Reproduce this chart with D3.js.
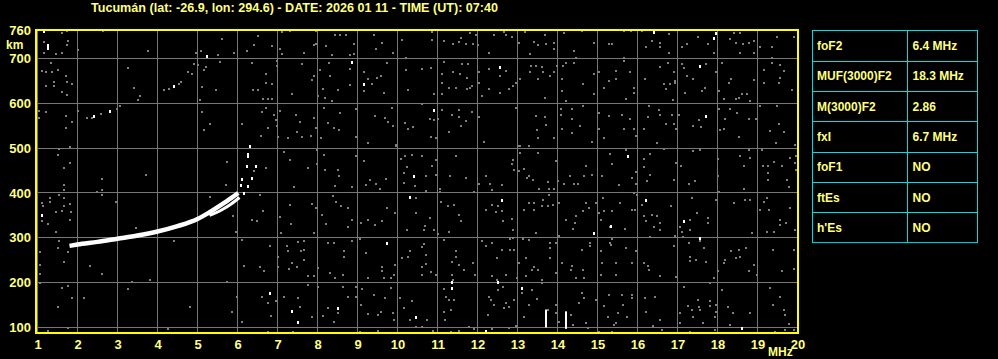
<!DOCTYPE html>
<html>
<head>
<meta charset="utf-8">
<script src="https://cdn.jsdelivr.net/npm/d3@7"></script>
<style>
  html, body { margin: 0; padding: 0; background: #000; }
  svg { display: block; }
  text { font-family: "Liberation Sans", Arial, sans-serif; font-weight: bold; fill: #ffff80; }
</style>
</head>
<body>
<div id="chart"></div>
<script>
const title = "Tucumán (lat: -26.9, lon: 294.6) - DATE: 2026 01 11 - TIME (UT): 07:40";

const freqTicks = [1, 2, 3, 4, 5, 6, 7, 8, 9, 10, 11, 12, 13, 14, 15, 16, 17, 18, 19, 20];
const heightGrid = [100, 200, 300, 400, 500, 600, 700];
const heightLabels = [100, 200, 300, 400, 500, 600, 700, 760];

// scaled parameters table
const paramNames = ["foF2", "MUF(3000)F2", "M(3000)F2", "fxI", "foF1", "ftEs", "h'Es"];
const paramValues = ["6.4 MHz", "18.3 MHz", "2.86", "6.7 MHz", "NO", "NO", "NO"];

// F2 ordinary trace (MHz, km)
const oTraceF = [1.8, 2.0, 2.5, 3.0, 3.5, 4.0, 4.5, 5.0, 5.3, 5.6, 5.85, 6.02];
const oTraceH = [282, 285, 291, 298, 305, 314, 326, 342, 357, 374, 389, 400];
// extraordinary branch
const xTraceF = [5.3, 5.6, 5.85, 6.05];
const xTraceH = [350, 362, 376, 390];
// cusp echoes near foF2
const cuspDots = [[6.13,400],[6.05,418],[6.09,431],[6.24,415],[6.34,433],[6.2,460],[6.43,460],[6.24,482],[6.28,504],[6.24,488]];

// vertical interference bars [freq, hLow, hHigh]
const bars = [[13.69, 100, 140], [14.2, 97, 136]];

// bright echoes scattered over the ionogram
const whiteNoise = [[1.13,762],[1.24,730],[1.24,724],[5.22,706],[4.38,639],[2.38,572],[2.78,583],[1.09,351],[8.84,693],[9.14,643],
  [10.38,437],[10.28,390],[9.7,288],[6.78,176],[7.33,137],[7.49,113],[8.49,143],[10.43,124],[12.53,680],[10.89,585],
  [12.58,385],[14.89,311],[11.33,202],[11.33,187],[12.18,92],[12.49,202],[13.08,187],[16.38,760],[17.89,745],[17.94,758],
  [17.54,684],[15.73,482],[16.19,385],[17.14,337],[17.54,299],[15.31,327],[17.69,572],[18.58,98]];

// grey noise returns
const greyNoise = [
  [1.59,757],[1.7,762],[2.6,762],[1.13,736],[1.73,740],[1.7,730],[1.13,712],[1.43,709],[1.59,712],[1.98,719],
  [3.74,716],[4.94,712],[5.05,717],[5.48,708],[5.59,743],[5.53,692],[1.32,690],[1.2,670],[1.34,669],[1.49,674],
  [1.09,672],[1.69,661],[1.38,648],[1.7,648],[1.84,643],[1.19,639],[1.38,639],[1.59,625],[1.7,619],[3.24,679],
  [3.38,634],[3.53,616],[3.49,607],[4.13,629],[4.26,633],[4.5,644],[4.57,648],[4.74,669],[4.84,666],[4.88,688],
  [4.99,685],[5.13,675],[5.19,680],[5.08,636],[5.44,629],[5.03,607],[5.09,581],[5.28,553],[5.13,540],[5.7,469],
  [5.69,417],[2.34,567],[2.2,567],[2.55,576],[2.95,587],[3.03,593],[1.18,581],[1.0,583],[1.0,568],[1.69,572],
  [1.69,546],[1.84,558],[1.98,584],[1.5,499],[1.49,484],[1.78,503],[1.78,466],[1.63,455],[2.59,432],[2.59,407],
  [2.59,396],[2.45,402],[3.68,441],[1.63,417],[1.63,407],[1.5,395],[1.63,389],[1.63,372],[1.78,376],[1.28,389],
  [1.28,380],[1.09,378],[1.12,370],[1.09,337],[1.24,331],[1.44,357],[1.59,359],[1.8,358],[1.78,339],[1.44,313],
  [2.94,381],[5.28,390],[3.44,322],[4.38,292],[1.5,292],[1.49,277],[1.74,269],[1.63,245],[1.03,269],[1.03,240],
  [1.03,220],[1.03,200],[2.28,238],[2.59,219],[3.34,202],[3.78,207],[3.24,185],[1.59,189],[1.74,193],[1.84,166],
  [2.13,166],[1.49,146],[4.78,145],[1.74,99],[1.24,92],[4.23,97],[5.63,88],[5.72,202],
  [6.49,751],[7.08,760],[7.28,762],[7.93,762],[7.93,732],[8.18,728],[8.41,752],[8.53,752],[8.68,752],[8.89,732],
  [8.89,710],[9.38,752],[9.59,734],[9.85,712],[10.08,741],[10.18,702],[5.88,712],[6.2,717],[6.39,730],[6.83,728],
  [7.03,721],[7.09,710],[7.64,712],[7.89,730],[8.33,707],[8.78,707],[9.44,721],
  [6.33,691],[6.95,695],[6.95,684],[6.68,665],[6.83,643],[6.68,646],[6.35,630],[6.49,630],[6.6,609],[6.73,610],
  [6.85,610],[7.34,620],[7.59,687],[7.83,652],[7.89,661],[8.03,675],[7.99,616],[8.12,633],[8.16,613],[8.33,605],
  [8.27,691],[8.28,661],[8.49,629],[8.78,676],[8.78,640],[9.13,669],[9.13,628],[9.24,654],[9.34,643],[9.45,656],
  [9.55,661],[9.64,624],[9.72,691],[10.18,675],[10.24,629],
  [6.08,553],[6.58,581],[6.68,589],[6.88,573],[6.93,563],[6.95,549],[7.03,583],[6.74,544],[6.56,527],[6.98,525],
  [7.24,523],[7.43,575],[7.53,558],[7.45,537],[7.59,525],[7.81,527],[7.89,568],[7.93,545],[8.06,523],[8.14,589],
  [8.23,557],[8.39,544],[8.53,579],[8.52,540],[8.93,587],[8.93,525],[9.24,512],[9.41,572],[9.66,568],[9.73,558],
  [9.85,549],[9.83,589],[9.93,508],[10.16,557],[10.24,542],[10.35,548],
  [6.68,456],[7.14,491],[7.28,473],[7.73,456],[7.95,496],[7.95,464],[7.39,414],[8.14,484],[8.16,451],[8.49,452],
  [8.51,437],[8.41,415],[8.84,414],[8.93,482],[9.14,472],[9.28,430],[9.18,417],[9.43,419],[9.53,408],[9.68,432],
  [9.93,505],[10.06,475],[10.16,482],[10.14,445],[10.14,422],[10.2,458],[10.33,484],[10.41,415],[6.39,450],
  [5.87,348],[5.93,314],[6.34,340],[6.45,337],[6.55,395],[6.6,359],[7.03,346],[7.06,311],[7.28,374],[7.3,331],
  [7.83,376],[7.93,367],[7.89,311],[8.09,352],[8.18,331],[8.37,393],[8.45,381],[8.56,372],[8.73,367],[8.74,325],
  [8.84,340],[9.06,334],[9.03,297],[9.23,340],[9.41,329],[9.59,337],[9.72,367],[9.91,355],[10.2,318],[10.43,389],
  [10.45,355],
  [6.09,296],[6.78,282],[6.98,258],[7.2,281],[7.24,270],[7.49,290],[7.64,292],[7.64,273],[7.56,270],[7.33,243],
  [7.45,235],[7.64,251],[7.73,214],[7.89,214],[7.99,232],[8.24,288],[8.39,288],[8.64,270],[8.64,258],[8.84,292],
  [9.18,266],[9.58,236],[9.59,225],[9.91,240],[9.88,217],[10.08,255],[10.24,257],[10.28,270],[9.64,210],[9.81,210],
  [9.24,210],[8.28,221],[8.41,210],[8.6,217],[6.14,237],[6.53,236],[6.64,226],[6.98,235],[7.26,230],
  [5.95,169],[5.84,135],[6.09,113],[6.58,169],[6.74,154],[6.81,126],[6.93,158],[7.14,169],[7.49,165],[7.53,146],
  [7.74,195],[7.83,124],[7.98,190],[8.12,126],[8.24,143],[8.49,132],[8.62,190],[8.73,169],[8.93,190],[8.95,169],
  [9.06,150],[9.09,185],[9.38,173],[9.23,129],[9.48,128],[9.56,135],[9.66,165],[9.81,187],[9.85,132],[9.89,117],
  [10.03,165],[10.14,143],[10.33,158],[10.28,117],[10.45,102],[8.39,113],[9.03,91],[9.49,92],[6.74,91],[7.37,91],
  [10.83,760],[10.83,742],[11.14,740],[11.35,732],[11.5,737],[11.56,745],[11.68,732],[11.78,757],[11.87,732],[11.93,752],
  [11.98,730],[12.25,712],[12.39,752],[12.64,760],[12.7,752],[12.83,749],[13.02,734],[13.17,760],[13.29,710],[13.39,737],
  [13.48,730],[13.65,752],[13.68,732],[13.89,734],[13.89,721],[14.14,757],[14.39,717],[14.43,702],[14.58,762],[14.89,734],
  [15.27,732],
  [10.58,676],[10.81,678],[10.89,620],[11.08,665],[11.08,646],[11.08,620],[11.14,693],[11.25,635],[11.35,669],[11.43,635],
  [11.58,687],[11.53,665],[11.7,657],[11.7,631],[11.78,635],[11.83,639],[11.75,687],[12.0,669],[12.0,646],[12.08,616],
  [12.27,676],[12.25,631],[12.53,660],[12.53,624],[12.68,672],[12.77,631],[12.87,639],[12.93,646],[13.03,655],[13.29,669],
  [13.31,684],[13.43,684],[13.49,654],[13.58,680],[13.62,669],[13.66,613],[13.78,661],[13.89,669],[14.08,654],[14.1,684],
  [14.08,628],[14.18,690],[14.39,690],[14.6,643],[14.89,665],[14.89,620],[15.14,635],[15.25,650],[15.02,670],[13.95,684],
  [10.58,598],[10.78,564],[10.89,563],[10.98,564],[10.81,525],[10.93,523],[11.25,536],[11.08,585],[11.33,573],[11.52,570],
  [11.5,585],[11.56,549],[11.68,560],[11.83,581],[12.0,570],[12.14,514],[12.93,589],[13.02,505],[13.25,505],[13.43,572],
  [13.48,523],[13.45,540],[13.67,570],[13.68,551],[13.89,523],[14.06,573],[14.06,587],[14.08,542],[14.18,605],[14.33,587],
  [14.33,564],[14.33,533],[14.54,549],[14.6,595],[14.83,514],[15.0,579],[15.02,542],[15.14,523],[15.25,572],
  [10.58,482],[10.7,437],[10.7,404],[10.83,461],[10.93,473],[10.93,441],[11.03,408],[11.03,403],[11.28,439],[11.43,482],
  [11.68,434],[11.89,402],[12.18,437],[12.28,419],[12.33,406],[12.58,417],[12.85,473],[12.83,464],[12.89,452],[13.02,449],
  [13.03,490],[13.03,505],[13.13,454],[13.2,434],[13.25,437],[13.35,430],[13.48,490],[13.73,424],[13.77,409],[13.89,408],
  [13.98,426],[14.14,421],[14.28,437],[14.39,421],[14.5,419],[14.64,437],[14.68,460],[14.85,441],[15.08,437],[15.28,486],
  [13.93,472],[13.52,409],[12.02,419],
  [10.64,318],[10.67,327],[10.78,344],[10.89,318],[10.98,309],[11.06,381],[11.23,372],[11.39,374],[11.5,352],[11.27,314],
  [11.56,337],[12.18,363],[12.35,374],[12.43,357],[12.5,370],[12.58,359],[12.6,337],[12.83,342],[12.85,318],[12.85,299],
  [13.14,363],[13.25,378],[13.39,378],[13.39,363],[13.43,311],[13.58,370],[13.73,370],[13.85,374],[14.02,378],[14.18,340],
  [14.43,348],[14.42,333],[14.37,320],[14.6,359],[14.68,378],[14.77,367],[14.93,378],[15.02,355],[15.14,359],[15.12,389],
  [15.28,325],[15.06,340],[14.02,303],[13.77,395],[13.62,385],
  [10.58,279],[10.64,287],[10.58,236],[10.58,217],[10.68,261],[10.68,241],[10.81,224],[10.93,217],[11.14,296],[11.33,247],
  [11.43,270],[11.43,258],[11.5,240],[11.33,217],[11.35,206],[11.64,228],[11.85,243],[11.92,217],[12.1,292],[12.18,281],
  [12.35,288],[12.45,255],[12.35,214],[12.45,206],[12.58,273],[12.68,217],[12.78,297],[12.78,273],[12.89,273],[12.95,210],
  [13.0,243],[13.1,297],[13.18,255],[13.18,214],[13.27,296],[13.33,228],[13.39,236],[13.48,228],[13.58,206],[13.78,288],
  [13.78,277],[13.93,288],[13.79,255],[13.93,221],[14.08,243],[14.31,228],[14.35,237],[14.43,210],[14.58,273],[14.6,228],
  [14.64,210],[14.78,288],[14.78,281],[15.06,217],[15.08,243],[15.28,288],[15.06,270],
  [11.14,185],[11.27,161],[11.39,161],[11.18,169],[11.14,135],[11.17,117],[11.31,139],[10.58,102],[10.72,117],[10.87,92],
  [11.31,91],[11.52,92],[11.77,102],[11.89,96],[12.23,128],[12.25,169],[12.31,161],[12.39,150],[12.5,184],[12.62,191],
  [12.64,143],[12.7,154],[12.75,146],[12.89,161],[12.93,103],[13.08,176],[13.14,124],[13.27,150],[13.33,184],[13.45,163],
  [13.58,199],[13.73,139],[13.93,150],[13.93,132],[14.02,113],[14.31,128],[14.37,105],[14.52,154],[14.58,176],[14.64,165],
  [14.68,109],[14.73,99],[14.93,161],[15.14,148],[15.25,173],[15.23,124],[15.02,91],[12.35,96],[12.77,98],
  [15.33,732],[15.64,762],[15.81,762],[16.08,762],[16.75,754],[17.08,725],[17.48,749],[17.73,732],[17.89,713],[18.29,743],
  [18.39,757],[18.54,757],[18.44,734],[18.61,732],[18.75,734],[18.89,740],[18.89,713],[18.54,712],[19.04,725],[19.33,725],
  [19.46,749],[19.88,749],[15.63,702],[16.53,734],[16.53,725],[16.75,713],[16.19,725],[16.33,740],[17.21,732],
  [15.44,672],[15.44,654],[15.64,695],[15.79,670],[15.89,635],[15.89,624],[15.69,610],[16.17,654],[16.53,682],[16.63,643],
  [16.69,631],[16.78,643],[16.73,691],[16.92,646],[16.92,650],[16.89,670],[16.86,607],[17.08,687],[17.14,678],[17.69,687],
  [17.58,628],[17.67,635],[17.94,670],[18.0,628],[18.08,691],[18.13,609],[18.25,646],[18.31,654],[18.5,613],[18.44,609],
  [18.58,620],[18.71,620],[18.79,605],[18.89,652],[19.13,675],[19.14,646],[19.33,702],[19.33,691],[19.54,685],[19.54,657],
  [19.5,645],[19.83,629],[19.63,672],[17.36,654],[17.21,661],[17.17,624],
  [15.58,575],[15.64,542],[15.79,566],[15.89,543],[15.94,527],[16.14,543],[16.23,570],[16.25,593],[16.5,585],[16.53,573],
  [16.69,553],[16.83,575],[16.88,553],[16.94,543],[17.0,575],[17.36,549],[17.5,563],[17.56,548],[18.04,540],[18.14,543],
  [18.17,566],[18.28,587],[18.46,579],[18.5,525],[18.75,566],[18.94,566],[19.04,594],[19.29,538],[19.46,593],[19.5,553],
  [19.44,512],[19.92,508],[19.64,536],[18.0,587],[16.46,511],
  [15.33,464],[15.5,417],[15.69,496],[15.83,434],[15.94,446],[15.94,421],[15.89,399],[16.13,475],[16.14,458],[16.29,486],
  [16.29,441],[16.21,426],[16.63,499],[16.89,428],[16.94,467],[17.06,460],[17.25,421],[17.36,493],[17.42,426],[17.54,496],
  [17.98,475],[17.98,437],[18.0,402],[18.53,482],[18.63,461],[18.75,496],[18.79,478],[18.64,408],[19.08,497],[19.11,460],
  [19.23,445],[19.25,430],[19.23,460],[19.58,460],[19.71,430],[19.75,414],[19.79,478],[19.94,482],[19.92,466],[19.94,452],
  [19.38,470],
  [15.33,359],[15.54,378],[15.67,320],[15.83,363],[15.92,363],[15.96,396],[16.08,374],[16.14,348],[16.19,337],[16.33,352],
  [16.46,348],[16.39,325],[16.53,318],[16.54,333],[16.28,302],[16.81,372],[17.04,325],[17.08,314],[17.1,302],[17.29,340],
  [17.29,318],[17.46,355],[17.75,344],[17.73,333],[17.33,389],[17.94,385],[18.39,378],[18.67,385],[18.79,384],[18.83,311],
  [19.04,363],[19.14,379],[19.21,389],[19.27,363],[19.21,314],[19.39,314],[19.54,340],[19.54,329],[19.69,333],[19.79,367],
  [19.92,318],[16.92,303],[15.34,298],
  [15.31,284],[15.44,243],[15.44,218],[15.69,277],[15.83,243],[15.94,270],[16.13,243],[16.23,237],[16.25,228],[16.54,214],
  [16.89,282],[16.94,212],[17.25,288],[17.29,258],[17.29,249],[17.44,251],[17.53,292],[17.64,277],[17.69,247],[17.88,210],
  [17.98,225],[18.17,251],[18.13,243],[18.31,270],[18.44,255],[18.5,273],[18.53,258],[18.69,277],[18.75,225],[18.88,240],
  [18.96,217],[19.36,273],[19.58,225],[19.89,273],[19.88,230],
  [15.58,173],[15.83,173],[15.83,165],[15.48,132],[15.44,109],[15.38,105],[15.71,124],[15.61,150],[16.17,165],[16.19,135],
  [16.36,103],[16.42,169],[16.54,117],[16.58,94],[17.04,132],[17.03,111],[17.14,191],[17.23,148],[17.33,139],[17.36,124],
  [17.48,161],[17.5,146],[17.53,139],[17.61,109],[17.79,199],[17.78,158],[17.79,148],[17.94,150],[17.94,135],[17.92,124],
  [17.92,94],[18.08,184],[18.23,146],[18.28,105],[18.36,132],[18.78,132],[19.28,187],[19.36,150],[19.54,169],[19.63,139],
  [19.67,128],[19.75,108],[19.89,94],[19.67,94],[19.42,91],[17.29,91],[15.33,91]
];

const width = 998, height = 359;
const plot = { left: 36, right: 798, top: 30, bottom: 333 };

const x = d3.scaleLinear().domain([1, 20]).range([37.5, 797.5]);
const y = d3.scaleLinear().domain([87.7, 763.6]).range([plot.bottom, plot.top]);

const svg = d3.select("#chart")
  .append("svg")
  .attr("width", width)
  .attr("height", height)
  .style("background", "#000");

// title
svg.append("text")
  .attr("x", 294.5)
  .attr("y", 11.5)
  .attr("text-anchor", "middle")
  .attr("font-size", 12)
  .attr("textLength", 407)
  .attr("lengthAdjust", "spacingAndGlyphs")
  .text(title);

// grid
const grid = svg.append("g").attr("stroke", "#777").attr("stroke-width", 1);
grid.selectAll(".vg")
  .data(freqTicks)
  .enter()
  .append("line")
  .attr("x1", (d) => Math.floor(x(d)) + 0.5)
  .attr("x2", (d) => Math.floor(x(d)) + 0.5)
  .attr("y1", plot.top)
  .attr("y2", plot.bottom);
grid.selectAll(".hg")
  .data(heightGrid)
  .enter()
  .append("line")
  .attr("x1", plot.left)
  .attr("x2", plot.right)
  .attr("y1", (d) => Math.floor(y(d)) + 0.5)
  .attr("y2", (d) => Math.floor(y(d)) + 0.5);

// noise
svg.append("g")
  .selectAll("rect")
  .data(greyNoise)
  .enter()
  .append("rect")
  .attr("x", (d) => Math.round(x(d[0])))
  .attr("y", (d) => Math.round(y(d[1])) - 1)
  .attr("width", 2)
  .attr("height", 2)
  .attr("fill", "#808080");

svg.append("g")
  .selectAll("rect")
  .data(whiteNoise.concat(cuspDots))
  .enter()
  .append("rect")
  .attr("x", (d) => Math.round(x(d[0])))
  .attr("y", (d) => Math.round(y(d[1])) - 1)
  .attr("width", 2)
  .attr("height", 3)
  .attr("fill", "#fff");

// traces
const line = d3.line()
  .x((d) => x(d[0]))
  .y((d) => y(d[1]))
  .curve(d3.curveMonotoneX);

svg.append("path")
  .datum(oTraceF.map((f, i) => [f, oTraceH[i]]))
  .attr("d", line)
  .attr("fill", "none")
  .attr("stroke", "#fff")
  .attr("stroke-width", 4.5);

svg.append("path")
  .datum(xTraceF.map((f, i) => [f, xTraceH[i]]))
  .attr("d", line)
  .attr("fill", "none")
  .attr("stroke", "#fff")
  .attr("stroke-width", 3);

svg.append("g")
  .selectAll("rect")
  .data(bars)
  .enter()
  .append("rect")
  .attr("x", (d) => Math.round(x(d[0])))
  .attr("y", (d) => y(d[2]))
  .attr("width", 2)
  .attr("height", (d) => y(d[1]) - y(d[2]))
  .attr("fill", "#fff");

// frame
svg.append("rect")
  .attr("x", plot.left)
  .attr("y", plot.top)
  .attr("width", plot.right - plot.left)
  .attr("height", plot.bottom - plot.top)
  .attr("fill", "none")
  .attr("stroke", "#ffff00")
  .attr("stroke-width", 2);

// axes
const yAxis = svg.append("g")
  .attr("transform", `translate(${plot.left},0)`)
  .call(d3.axisLeft(y).tickValues(heightLabels).tickSize(0).tickPadding(5));
yAxis.select(".domain").remove();
yAxis.selectAll("text")
  .attr("font-size", 13)
  .attr("font-family", null)
  .attr("fill", null);
// top label sits flush with the frame
yAxis.selectAll(".tick")
  .filter((d) => d === 760)
  .select("text")
  .attr("dy", "0.2em");

svg.append("text")
  .attr("x", 6)
  .attr("y", 49)
  .attr("font-size", 12)
  .text("km");

const xAxis = svg.append("g")
  .attr("transform", `translate(0,${plot.bottom})`)
  .call(d3.axisBottom(x).tickValues(freqTicks).tickSize(0).tickPadding(7));
xAxis.select(".domain").remove();
xAxis.selectAll("text")
  .attr("font-size", 13)
  .attr("font-family", null)
  .attr("fill", null);

svg.append("text")
  .attr("x", 768)
  .attr("y", 356)
  .attr("font-size", 12)
  .text("MHz");

// parameter table
const table = { left: 812.5, mid: 907.5, right: 977.5, top: 30.5, row: 30.3 };
const tg = svg.append("g");
tg.append("rect")
  .attr("x", table.left)
  .attr("y", table.top)
  .attr("width", table.right - table.left)
  .attr("height", table.row * paramNames.length)
  .attr("fill", "none")
  .attr("stroke", "#00e0e0");
tg.append("line")
  .attr("x1", table.mid).attr("x2", table.mid)
  .attr("y1", table.top).attr("y2", table.top + table.row * paramNames.length)
  .attr("stroke", "#00e0e0");
tg.selectAll(".rowline")
  .data(paramNames.slice(1))
  .enter()
  .append("line")
  .attr("x1", table.left).attr("x2", table.right)
  .attr("y1", (d, i) => Math.round(table.top + table.row * (i + 1)) + 0.5)
  .attr("y2", (d, i) => Math.round(table.top + table.row * (i + 1)) + 0.5)
  .attr("stroke", "#00e0e0");
tg.selectAll(".pname")
  .data(paramNames)
  .enter()
  .append("text")
  .attr("x", 817)
  .attr("y", (d, i) => table.top + table.row * (i + 0.5) + 4.5)
  .attr("font-size", 12)
  .text((d) => d);
tg.selectAll(".pval")
  .data(paramValues)
  .enter()
  .append("text")
  .attr("x", 912.5)
  .attr("y", (d, i) => table.top + table.row * (i + 0.5) + 4.5)
  .attr("font-size", 12)
  .text((d) => d);
</script>
</body>
</html>
